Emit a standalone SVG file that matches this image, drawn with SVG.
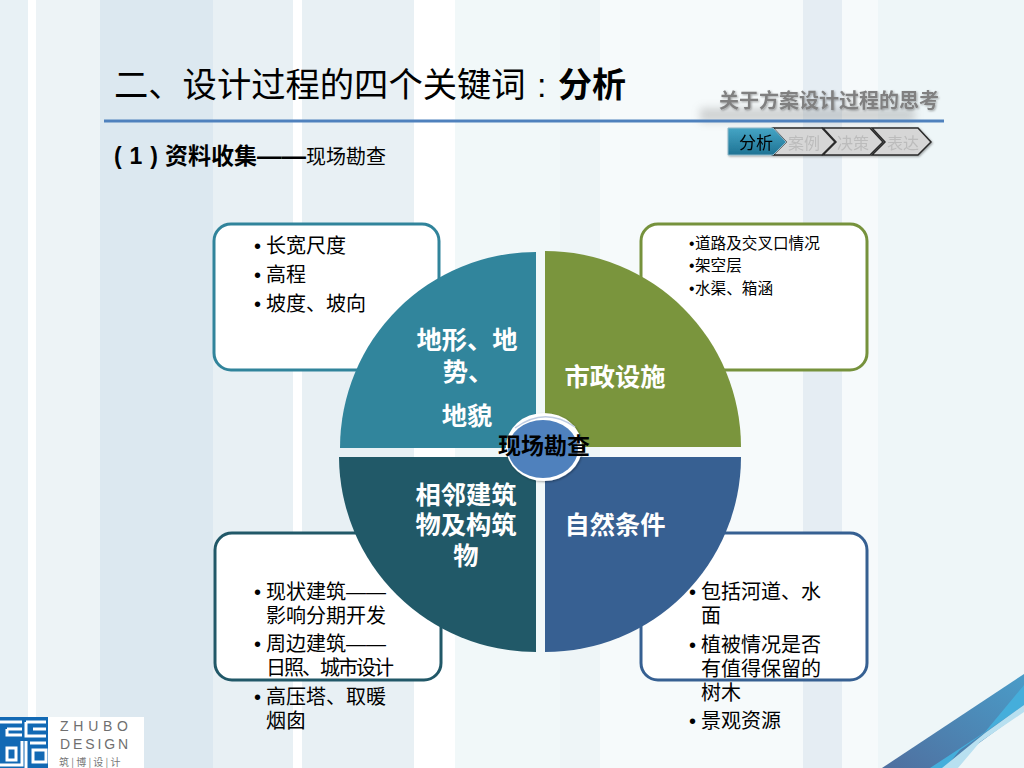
<svg xmlns="http://www.w3.org/2000/svg" width="1024" height="768" viewBox="0 0 1024 768">
<style>
text{font-family:"Noto Sans CJK SC","Liberation Sans",sans-serif;fill:#000}
.box{fill:#fff;stroke-width:3}
.q{font-size:25.300px;font-weight:700;fill:#fff;text-anchor:middle}
.b{font-size:20px}
.s{font-size:15.600px}
.d{font-family:"Liberation Sans",sans-serif}
.step{font-size:16px;fill:#bcbcbc;text-anchor:middle}
.chev{fill:#d6d6d6;stroke:#2a2a2a;stroke-width:1.500}
.lat{font-family:"Liberation Sans",sans-serif;font-size:14px;fill:#6f6f6f}
</style>
<defs>
<filter id="blur" x="-20%" y="-100%" width="140%" height="300%"><feGaussianBlur stdDeviation="4"/></filter>
<filter id="sh" x="-20%" y="-20%" width="140%" height="140%"><feDropShadow dx="1" dy="1" stdDeviation="0.8" flood-color="#000" flood-opacity=".35"/></filter>
<linearGradient id="blue1" x1="0" y1="1" x2="1" y2="0"><stop offset="0" stop-color="#4f6f9f"/><stop offset="1" stop-color="#4a9cc8"/></linearGradient>
<linearGradient id="tab" x1="0" y1="0" x2="0" y2="1"><stop offset="0" stop-color="#45a5c5"/><stop offset="1" stop-color="#1f7394"/></linearGradient>
</defs>
<g id="background">
<rect width="1024" height="768" fill="#f6fafb"/>
<rect x="0" width="28" height="768" fill="#e8f1f5"/>
<rect x="28" width="8" height="768" fill="#fff"/>
<rect x="36" width="64" height="768" fill="#edf3f6"/>
<rect x="100" width="113" height="768" fill="#dce8f0"/>
<rect x="213" width="80" height="768" fill="#e8f0f4"/>
<rect x="293" width="9" height="768" fill="#fff"/>
<rect x="302" width="112" height="768" fill="#e8f0f4"/>
<rect x="414" width="41" height="768" fill="#fff"/>
<rect x="455" width="105" height="768" fill="#f1f8f9"/>
<rect x="560" width="40" height="768" fill="#eef5f7"/>
<rect x="803" width="39" height="768" fill="#e5edf3"/>
<rect x="878" width="146" height="768" fill="#eef6f8"/>
<polygon points="882,768 1024,674 1024,710 945,768" fill="url(#blue1)"/>
<polygon points="930,768 985,732 1024,685 1024,705 960,750 945,768" fill="#45aedb"/>
<polygon points="942,768 985,733 1024,705 1024,712 980,742 958,768" fill="#b8e0f0"/>
</g>
<g id="header">
<text x="114" y="97" font-size="34.300">二、设计过程的四个关键词</text>
<text x="537" y="97" font-size="34" class="d">:</text>
<text x="558" y="97" font-size="34" font-weight="700">分析</text>
<rect x="700" y="108" width="215" height="14" fill="#888" opacity=".35" filter="url(#blur)"/>
<rect x="104" y="119.500" width="840" height="3" fill="#4f81bd"/>
<text x="719" y="108" font-size="20" font-weight="700" style="fill:#808080" filter="url(#sh)">关于方案设计过程的思考</text>
<text x="114" y="164" font-size="23" font-weight="700" class="d" textLength="44">( 1 )</text>
<text x="165" y="164" font-size="23" font-weight="700">资料收集</text>
<text x="257" y="164" font-size="24.500" font-weight="700" class="d">——</text>
<text x="306" y="164" font-size="20">现场勘查</text>
</g>
<g id="steps" filter="url(#sh)">
<polygon class="chev" points="773,128 822,128 835,142 822,155 773,155 786,142"/>
<polygon class="chev" points="823,128 870,128 883,142 870,155 823,155 836,142"/>
<polygon class="chev" points="872,128 918,128 931,142 918,155 872,155 885,142"/>
<polygon points="728,128 773,128 786,142 773,155 728,155" fill="url(#tab)" stroke="#8fb7c8" stroke-width="1"/>
<text x="756" y="149" font-size="17" text-anchor="middle">分析</text>
<text class="step" x="804" y="149">案例</text>
<text class="step" x="853" y="149">决策</text>
<text class="step" x="903" y="149">表达</text>
</g>
<g id="box-terrain">
<rect class="box" x="214" y="224" width="225" height="146" rx="17" stroke="#31849b"/>
<text class="b d" x="254" y="253">•</text><text class="b" x="266" y="253">长宽尺度</text>
<text class="b d" x="254" y="282">•</text><text class="b" x="266" y="282">高程</text>
<text class="b d" x="254" y="311">•</text><text class="b" x="266" y="311">坡度、坡向</text>
</g>
<g id="box-municipal">
<rect class="box" x="641" y="224" width="226" height="146" rx="17" stroke="#76923c"/>
<text class="s d" x="689" y="249">•</text><text class="s" x="695" y="249">道路及交叉口情况</text>
<text class="s d" x="689" y="271">•</text><text class="s" x="695" y="271">架空层</text>
<text class="s d" x="689" y="294">•</text><text class="s" x="695" y="294">水渠、箱涵</text>
</g>
<g id="box-neighbor">
<rect class="box" x="215" y="533" width="226" height="147" rx="17" stroke="#215868"/>
<text class="b d" x="254" y="599">•</text><text class="b" x="266" y="599">现状建筑<tspan class="d">——</tspan></text>
<text class="b" x="266" y="623">影响分期开发</text>
<text class="b d" x="254" y="651">•</text><text class="b" x="266" y="651">周边建筑<tspan class="d">——</tspan></text>
<text class="b" x="266" y="675" letter-spacing="-2">日照、城市设计</text>
<text class="b d" x="254" y="704">•</text><text class="b" x="266" y="704">高压塔、取暖</text>
<text class="b" x="266" y="728">烟囱</text>
</g>
<g id="box-nature">
<rect class="box" x="641" y="533" width="226" height="147" rx="17" stroke="#366092"/>
<text class="b d" x="689" y="599">•</text><text class="b" x="701" y="599">包括河道、水</text>
<text class="b" x="701" y="623">面</text>
<text class="b d" x="689" y="652">•</text><text class="b" x="701" y="652">植被情况是否</text>
<text class="b" x="701" y="676">有值得保留的</text>
<text class="b" x="701" y="700">树木</text>
<text class="b d" x="689" y="728">•</text><text class="b" x="701" y="728">景观资源</text>
</g>
<g id="node-terrain">
<path d="M536,252 A196,196 0 0 0 340,448 L536,448 Z" fill="#31859c"/>
<text class="q" x="467" y="349">地形、地</text><text class="q" x="468" y="381">势、</text><text class="q" x="467" y="425">地貌</text>
</g>
<g id="node-municipal">
<path d="M545,251 A196,196 0 0 1 741,447 L545,447 Z" fill="#7a953d"/>
<text class="q" x="615" y="386">市政设施</text>
</g>
<g id="node-neighbor">
<path d="M339,457 L536,457 L536,652 A197,196 0 0 1 339,457 Z" fill="#215968"/>
<text class="q" x="466" y="504">相邻建筑</text><text class="q" x="466" y="534">物及构筑</text><text class="q" x="466" y="565">物</text>
</g>
<g id="node-nature">
<path d="M545,457 L741,457 A196,195 0 0 1 545,652 Z" fill="#376092"/>
<text class="q" x="615" y="534">自然条件</text>
</g>
<g id="node-center">
<ellipse cx="544" cy="447" rx="38" ry="34" fill="#fff" filter="url(#sh)"/>
<path d="M515,428 Q545,406 575,427" fill="none" stroke="#bdcbe2" stroke-width="1.500"/>
<ellipse cx="543" cy="449" rx="35" ry="29" fill="#4f81bd"/>
<text x="544" y="454" font-size="23" font-weight="700" text-anchor="middle">现场勘查</text>
</g>
<g id="logo">
<rect x="0" y="717" width="144" height="51" fill="#fff"/>
<rect x="0" y="717" width="48" height="51" fill="#1269b4"/>
<g fill="none" stroke="#fff" stroke-width="3">
<path d="M0,722 H22 M7,729 H22 M7,729 V735 H22 M26,722 H46 M33,729 H46 M26,722 V736 H46"/>
<path d="M7,748 H16 V760 H7 Z M0,765 H22 V741 M30,743 H46 M33,750 H46 V762 H33 Z M26,741 V768"/>
</g>
<text x="60" y="731" class="lat" textLength="68">ZHUBO</text>
<text x="60" y="749" class="lat" textLength="68">DESIGN</text>
<text x="59" y="766" font-size="10" style="fill:#777">筑 | 博 | 设 | 计</text>
</g>
</svg>
